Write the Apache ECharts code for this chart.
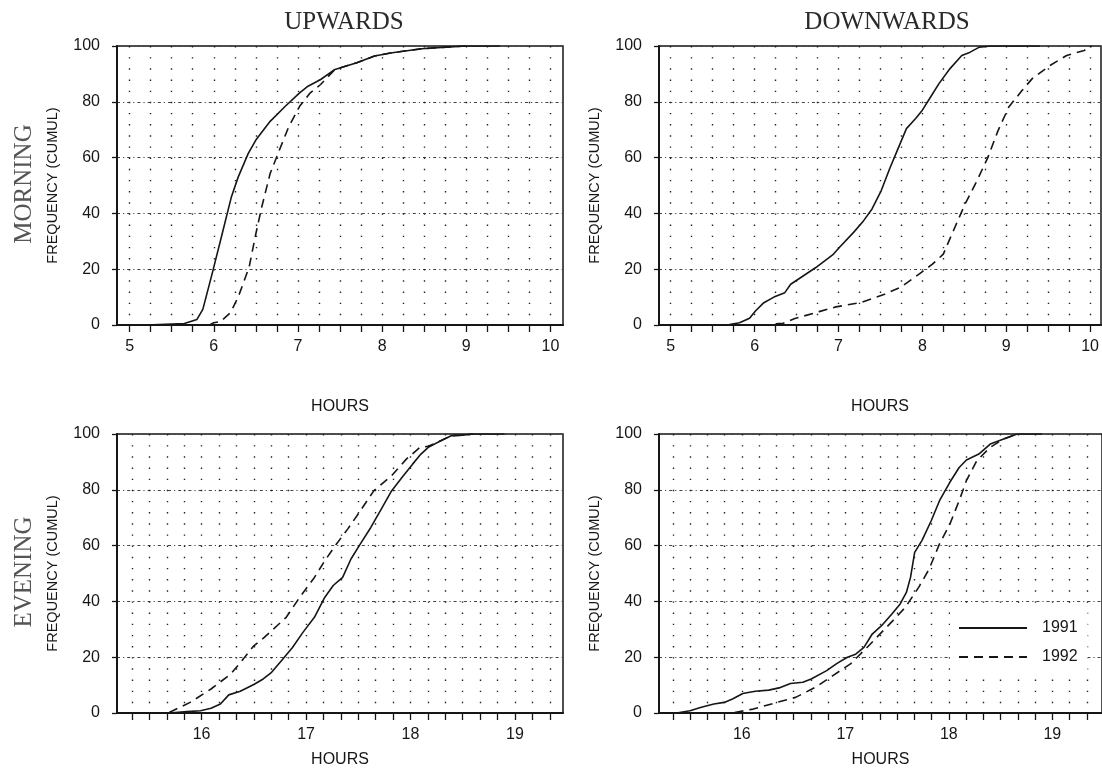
<!DOCTYPE html>
<html>
<head>
<meta charset="utf-8">
<script src="https://cdn.jsdelivr.net/npm/echarts@6/dist/echarts.min.js"></script>
<style>
html,body{margin:0;padding:0;background:#fff;}
#chart{width:1102px;height:770px;}
</style>
</head>
<body>
<div id="chart"></div>
<script>
// ---------- data ----------
const seriesNames = ['1991', '1992'];
const columnTitles = ['UPWARDS', 'DOWNWARDS'];
const rowTitles = ['MORNING', 'EVENING'];
const yAxisName = 'FREQUENCY (CUMUL)';
const xAxisName = 'HOURS';

const morningTicks = [5, 5.25, 5.5, 5.75, 6, 6.25, 6.5, 6.75, 7, 7.25, 7.5, 7.75, 8, 8.25, 8.5, 8.75, 9, 9.25, 9.5, 9.75, 10];
const morningLabels = [5, 6, 7, 8, 9, 10];
const eveningTicks = [15.3333, 15.5, 15.6667, 15.8333, 16, 16.1667, 16.3333, 16.5, 16.6667, 16.8333, 17, 17.1667, 17.3333, 17.5, 17.6667, 17.8333, 18, 18.1667, 18.3333, 18.5, 18.6667, 18.8333, 19, 19.1667, 19.3333];
const eveningLabels = [16, 17, 18, 19];

const upMorning1991 = [[5.2,0],[5.65,0.5],[5.8,2],[5.87,5.6],[5.99,19.5],[6.10,32.7],[6.21,46],[6.29,53],[6.41,61.5],[6.50,66.3],[6.67,73],[6.85,78.4],[7.02,83.2],[7.12,85.6],[7.27,88],[7.44,91.6],[7.70,94],[7.91,96.4],[8.12,97.6],[8.47,99],[8.76,99.6],[9.0,100],[9.4,100]];
const upMorning1992 = [[5.95,0],[6.0,0.8],[6.08,1.2],[6.2,4.5],[6.29,10],[6.42,20.7],[6.50,32.7],[6.57,42.3],[6.67,54.3],[6.78,62.7],[6.89,71],[7.02,78.4],[7.14,83],[7.27,86.2],[7.44,91.6],[7.70,94],[7.91,96.4],[8.12,97.6],[8.47,99],[8.76,99.6],[9.0,100]];
const downMorning1991 = [[5.2,0],[5.70,0.2],[5.82,0.8],[5.94,2.4],[6.01,5],[6.11,8],[6.23,10],[6.36,11.6],[6.43,14.6],[6.56,17.2],[6.73,20.6],[6.93,25.1],[7.01,27.8],[7.18,33.2],[7.30,37.4],[7.40,41.6],[7.51,48.2],[7.61,56],[7.71,63.2],[7.81,70.4],[7.92,74],[8.00,77],[8.10,81.8],[8.20,86.6],[8.33,91.9],[8.47,96.6],[8.57,97.8],[8.68,99.6],[8.82,100],[9.4,100]];
const downMorning1992 = [[6.25,0.4],[6.34,0.6],[6.48,2.3],[6.77,4.8],[6.97,6.5],[7.26,8],[7.55,11],[7.75,13.7],[7.96,18.2],[8.12,21.8],[8.25,25.4],[8.37,33.8],[8.51,43.4],[8.64,51],[8.78,60],[8.90,69.5],[9.03,78.1],[9.19,84.1],[9.31,88.3],[9.52,93],[9.72,96.6],[9.93,98.4],[10.02,100]];
const upEvening1991 = [[15.3,0],[15.69,0],[15.86,0.5],[15.99,0.8],[16.09,1.7],[16.18,3.2],[16.26,6.5],[16.37,7.8],[16.50,10.2],[16.59,12.2],[16.67,14.6],[16.77,19],[16.87,23.5],[16.97,28.9],[17.08,34.3],[17.18,41.5],[17.26,45.7],[17.35,48.6],[17.43,55.2],[17.52,60.6],[17.62,66.5],[17.72,73.1],[17.82,79.7],[17.92,84.5],[18.02,89.2],[18.10,92.8],[18.17,95.2],[18.29,97.6],[18.39,99.4],[18.50,99.6],[18.6,100],[18.9,100]];
const upEvening1992 = [[15.69,0.2],[15.89,3.8],[16.09,8.6],[16.28,14],[16.40,19.4],[16.50,24.1],[16.60,27.1],[16.81,34.3],[16.94,41.5],[17.08,48.6],[17.18,54.6],[17.28,60],[17.40,66],[17.52,72.5],[17.65,79.7],[17.82,85.1],[17.96,91],[18.09,95.2],[18.17,95.6],[18.29,97.6],[18.39,99.4],[18.5,99.6],[18.6,100]];
const downEvening1991 = [[15.25,0],[15.37,0],[15.50,0.8],[15.60,2],[15.73,3.2],[15.83,3.8],[15.91,5],[16.01,7],[16.13,7.8],[16.26,8.2],[16.36,9],[16.47,10.6],[16.59,11],[16.67,12.2],[16.82,15.2],[16.92,17.8],[17.02,20],[17.10,21.1],[17.18,23.5],[17.26,28.3],[17.35,31.3],[17.45,35.5],[17.53,39.1],[17.59,43.2],[17.63,48.6],[17.67,57.6],[17.74,61.8],[17.83,68.9],[17.91,76.1],[18.01,82.7],[18.10,88],[18.17,90.7],[18.29,92.8],[18.40,96.4],[18.53,98.2],[18.66,100],[18.9,100]];
const downEvening1992 = [[15.93,0.2],[16.11,1.4],[16.34,3.8],[16.52,5.6],[16.72,9.4],[16.88,13.4],[17.05,17.6],[17.21,23.5],[17.35,28.9],[17.46,33.1],[17.58,37.9],[17.71,45.1],[17.81,51.6],[17.91,60.6],[18.01,67.7],[18.10,76.1],[18.17,83.3],[18.27,90.4],[18.40,95.2],[18.53,98.2],[18.66,100]];

// ---------- layout ----------
const SANS = 'Liberation Sans';
const SERIF = 'Liberation Serif';
const INK = '#161616';

const panels = [
  {grid:{left:117, width:446, top:46, height:279}, min:4.85, max:10.15, ticks:morningTicks, labels:morningLabels, nameGap:74, d91:upMorning1991, d92:upMorning1992},
  {grid:{left:659, width:442, top:46, height:279}, min:4.86, max:10.13, ticks:morningTicks, labels:morningLabels, nameGap:74, d91:downMorning1991, d92:downMorning1992},
  {grid:{left:117, width:446, top:434, height:279}, min:15.19, max:19.46, ticks:eveningTicks, labels:eveningLabels, nameGap:39, d91:upEvening1991, d92:upEvening1992},
  {grid:{left:659, width:447, top:434, height:279}, min:15.2, max:19.48, ticks:eveningTicks, labels:eveningLabels, nameGap:39, d91:downEvening1991, d92:downEvening1992}
];

const option = {
  backgroundColor: '#fff',
  animation: false,
  title: [
    {text: columnTitles[0], left: 339, top: 5, textAlign: 'center', textStyle:{fontFamily:SERIF, fontSize:25, fontWeight:'normal', color:'#2a2a2a'}},
    {text: columnTitles[1], left: 882, top: 5, textAlign: 'center', textStyle:{fontFamily:SERIF, fontSize:25, fontWeight:'normal', color:'#2a2a2a'}}
  ],
  graphic: [
    {type:'text', x:24, y:184, rotation:Math.PI/2, style:{text:rowTitles[0], font:'25px "Liberation Serif"', fill:'#555', align:'center', verticalAlign:'middle'}},
    {type:'text', x:24, y:572, rotation:Math.PI/2, style:{text:rowTitles[1], font:'25px "Liberation Serif"', fill:'#555', align:'center', verticalAlign:'middle'}}
  ],
  legend: {
    data: seriesNames,
    orient: 'vertical',
    left: 950,
    top: 612,
    padding: [8, 10, 8, 8],
    backgroundColor: '#fff',
    itemWidth: 68,
    itemHeight: 14,
    itemGap: 13,
    itemStyle: {opacity: 0, color: 'transparent', borderWidth: 0},
    textStyle: {fontFamily:SANS, fontSize:16, color:INK, padding:[0,0,0,10]}
  },
  grid: panels.map(p => Object.assign({show:true, borderColor:INK, borderWidth:1.5, backgroundColor:'transparent'}, p.grid)),
  xAxis: panels.map((p, i) => ({
    type:'value', gridIndex:i, min:p.min, max:p.max,
    name: xAxisName, nameLocation:'middle', nameGap:p.nameGap,
    nameTextStyle:{fontFamily:SANS, fontSize:16, color:INK},
    axisLine:{show:true, onZero:false, lineStyle:{color:INK, width:2}},
    axisTick:{show:true, inside:false, length:7, customValues:p.ticks, lineStyle:{color:INK, width:1.3}},
    axisLabel:{show:true, customValues:p.labels, margin:14, fontFamily:SANS, fontSize:16, color:INK},
    splitLine:{show:true, lineStyle:{color:'#222', width:1.4, type:[1.4, 9.76]}}
  })),
  yAxis: panels.map((p, i) => ({
    type:'value', gridIndex:i, min:0, max:100, interval:20,
    name: yAxisName, nameLocation:'middle', nameGap:57,
    nameTextStyle:{fontFamily:SANS, fontSize:14.5, color:INK},
    axisLine:{show:true, lineStyle:{color:INK, width:2}},
    axisTick:{show:true, inside:false, length:5, lineStyle:{color:INK, width:1.3}},
    axisLabel:{show:true, margin:17, fontFamily:SANS, fontSize:16, color:INK},
    splitLine:{show:true, lineStyle:{color:'#444', width:1, type:[3, 3, 1.2, 3]}}
  })),
  series: []
};

panels.forEach((p, i) => {
  option.series.push({
    name: seriesNames[0], type:'line', xAxisIndex:i, yAxisIndex:i, data:p.d91,
    symbol:'none', smooth:false, z:3,
    lineStyle:{color:INK, width:1.6, type:'solid'}, itemStyle:{color:INK}
  });
  option.series.push({
    name: seriesNames[1], type:'line', xAxisIndex:i, yAxisIndex:i, data:p.d92,
    symbol:'none', smooth:false, z:3,
    lineStyle:{color:INK, width:1.6, type:[9, 6]}, itemStyle:{color:INK}
  });
});

const chart = echarts.init(document.getElementById('chart'), null, {renderer:'canvas'});
chart.setOption(option);
</script>
</body>
</html>
